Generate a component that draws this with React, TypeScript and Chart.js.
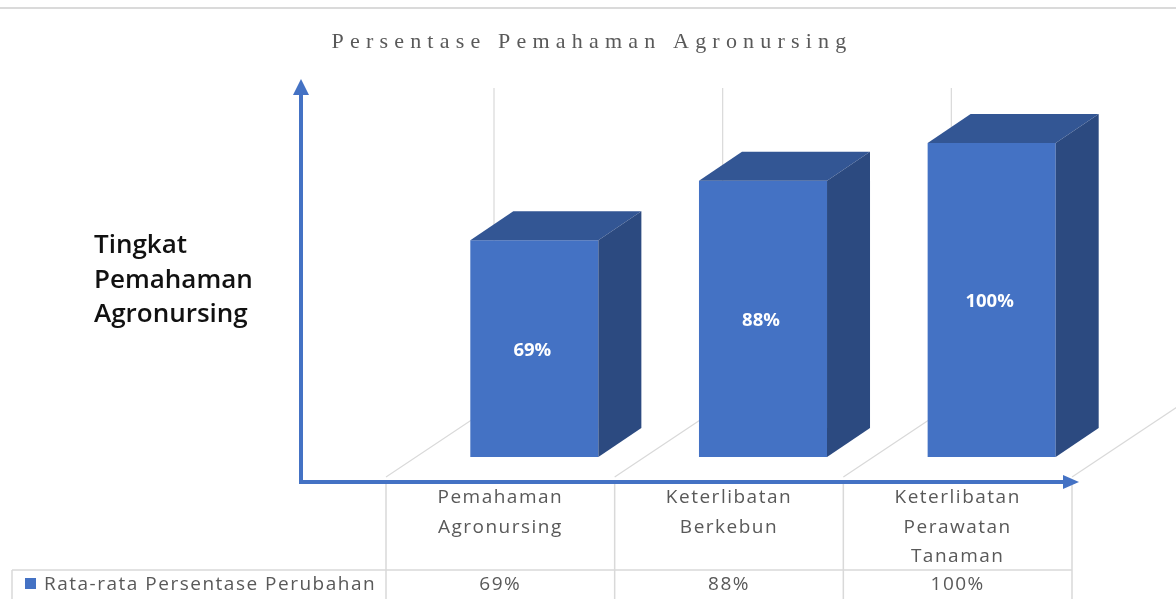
import React, { useEffect, useRef } from "react";
import { Chart, registerables } from "chart.js";

Chart.register(...registerables);

// ---- data ----
const categories: string[][] = [
  ["Pemahaman", "Agronursing"],
  ["Keterlibatan", "Berkebun"],
  ["Keterlibatan", "Perawatan", "Tanaman"],
];
const values: number[] = [69, 88, 100];
const valueLabels: string[] = ["69%", "88%", "100%"];
const seriesName = "Rata-rata Persentase Perubahan";
const chartTitle = "Persentase Pemahaman Agronursing";
const yAxisTitle: string[] = ["Tingkat", "Pemahaman", "Agronursing"];

// ---- styles ----
const FRONT = "#4472C4";
const TOP = "#335694";
const SIDE = "#2C4A80";
const GRID = "#D9D9D9";
const TEXT = "#595959";
const BAR_DEPTH = { dx: 43, dy: -29 };
const FLOOR_SHIFT = { dx: -34, dy: 20 };
const FULL_DEPTH = { dx: 108, dy: -72 };
const WALL_TOP = 88;
const SANS = "'Open Sans', Lato, sans-serif";

function line(ctx: CanvasRenderingContext2D, x1: number, y1: number, x2: number, y2: number) {
  ctx.beginPath();
  ctx.moveTo(x1, y1);
  ctx.lineTo(x2, y2);
  ctx.stroke();
}

const threeD = {
  id: "threeD",
  beforeDatasetsDraw(chart: any) {
    const { ctx, scales } = chart;
    const x = scales.x;
    const y = scales.y;
    const n = chart.data.labels.length;
    const w = x.getPixelForValue(1) - x.getPixelForValue(0);
    const floorY = y.getPixelForValue(0) + FLOOR_SHIFT.dy;
    ctx.save();
    // top border line
    ctx.strokeStyle = "#DADADA";
    ctx.lineWidth = 2;
    line(ctx, 0, 8, chart.width, 8);
    ctx.strokeStyle = GRID;
    ctx.lineWidth = 1.2;
    for (let k = 0; k <= n; k++) {
      const fx = x.getPixelForValue(k) - w / 2 + FLOOR_SHIFT.dx;
      line(ctx, fx, floorY, fx + FULL_DEPTH.dx, floorY + FULL_DEPTH.dy);
      line(ctx, fx + FULL_DEPTH.dx, floorY + FULL_DEPTH.dy, fx + FULL_DEPTH.dx, WALL_TOP);
    }
    ctx.restore();
  },
  afterDatasetsDraw(chart: any) {
    const { ctx } = chart;
    const meta = chart.getDatasetMeta(0);
    ctx.save();
    meta.data.forEach((el: any, i: number) => {
      const p = el.getProps(["x", "y", "base", "width"], true);
      const x0 = p.x - p.width / 2;
      const x1 = p.x + p.width / 2;
      const top = p.y;
      const base = p.base;
      // top face
      ctx.fillStyle = TOP;
      ctx.beginPath();
      ctx.moveTo(x0, top);
      ctx.lineTo(x1, top);
      ctx.lineTo(x1 + BAR_DEPTH.dx, top + BAR_DEPTH.dy);
      ctx.lineTo(x0 + BAR_DEPTH.dx, top + BAR_DEPTH.dy);
      ctx.closePath();
      ctx.fill();
      // side face
      ctx.fillStyle = SIDE;
      ctx.beginPath();
      ctx.moveTo(x1, top);
      ctx.lineTo(x1 + BAR_DEPTH.dx, top + BAR_DEPTH.dy);
      ctx.lineTo(x1 + BAR_DEPTH.dx, base + BAR_DEPTH.dy);
      ctx.lineTo(x1, base);
      ctx.closePath();
      ctx.fill();
      // label
      ctx.fillStyle = "#FFFFFF";
      ctx.font = `bold 18.5px ${SANS}`;
      ctx.textAlign = "center";
      ctx.textBaseline = "middle";
      ctx.fillText(valueLabels[i], p.x - 2, (top + base) / 2 + 2);
    });
    ctx.restore();
  },
  afterDraw(chart: any) {
    const { ctx, scales } = chart;
    const x = scales.x;
    const y = scales.y;
    const n = chart.data.labels.length;
    const w = x.getPixelForValue(1) - x.getPixelForValue(0);
    const floorY = y.getPixelForValue(0) + FLOOR_SHIFT.dy;
    const colLeft = (k: number) => x.getPixelForValue(k) - w / 2 + FLOOR_SHIFT.dx;
    ctx.save();

    // title
    ctx.fillStyle = TEXT;
    ctx.font = "22px 'Liberation Serif', serif";
    (ctx as any).letterSpacing = "6.2px";
    ctx.textAlign = "center";
    ctx.textBaseline = "middle";
    ctx.fillText(chartTitle, 592, 42);
    (ctx as any).letterSpacing = "0px";

    // y axis title
    ctx.fillStyle = "#111111";
    ctx.font = `600 26px ${SANS}`;
    ctx.textAlign = "left";
    yAxisTitle.forEach((t, i) => ctx.fillText(t, 94, 246 + i * 34.5));

    // table
    const tableTop = floorY + 7;
    const rowLine = 570;
    const tableBottom = chart.height;
    ctx.strokeStyle = GRID;
    ctx.lineWidth = 1.5;
    for (let k = 0; k <= n; k++) {
      line(ctx, colLeft(k), tableTop, colLeft(k), tableBottom);
    }
    line(ctx, 12, rowLine, colLeft(n), rowLine);
    line(ctx, 12, rowLine, 12, tableBottom);

    ctx.fillStyle = TEXT;
    ctx.font = `19px ${SANS}`;
    (ctx as any).letterSpacing = "1.5px";
    ctx.textAlign = "center";
    categories.forEach((lines, i) => {
      const cx = colLeft(i) + w / 2;
      lines.forEach((t, j) => ctx.fillText(t, cx, 498 + j * 29.5));
      ctx.fillText(valueLabels[i], cx, 585);
    });
    // legend key
    ctx.fillStyle = FRONT;
    ctx.fillRect(25, 578, 11, 11);
    ctx.fillStyle = TEXT;
    ctx.textAlign = "left";
    ctx.fillText(seriesName, 44, 585);
    (ctx as any).letterSpacing = "0px";

    // axis arrows
    const ax = 301;
    const ay = floorY + 5;
    ctx.strokeStyle = FRONT;
    ctx.fillStyle = FRONT;
    ctx.lineWidth = 4;
    ctx.lineCap = "butt";
    line(ctx, ax, ay + 2, ax, 92);
    ctx.beginPath();
    ctx.moveTo(ax, 79);
    ctx.lineTo(ax - 8, 95);
    ctx.lineTo(ax + 8, 95);
    ctx.closePath();
    ctx.fill();
    const xEnd = colLeft(n) + 7;
    line(ctx, ax - 2, ay, xEnd - 14, ay);
    ctx.beginPath();
    ctx.moveTo(xEnd, ay);
    ctx.lineTo(xEnd - 16, ay - 7);
    ctx.lineTo(xEnd - 16, ay + 7);
    ctx.closePath();
    ctx.fill();

    ctx.restore();
  },
};

export default function App() {
  const ref = useRef<HTMLCanvasElement | null>(null);
  useEffect(() => {
    if (!ref.current) return;
    const chart = new Chart(ref.current, {
      type: "bar",
      data: {
        labels: categories.map((c) => c.join(" ")),
        datasets: [
          {
            label: seriesName,
            data: values,
            backgroundColor: FRONT,
            borderWidth: 0,
            barPercentage: 0.56,
            categoryPercentage: 1,
          },
        ],
      },
      options: {
        responsive: false,
        animation: false,
        layout: { padding: { left: 420, right: 70, top: 143, bottom: 142 } },
        plugins: {
          legend: { display: false },
          title: { display: false },
          tooltip: { enabled: false },
        },
        scales: {
          x: { display: false },
          y: { display: false, min: 0, max: 100 },
        },
      },
      plugins: [threeD],
    });
    return () => chart.destroy();
  }, []);
  return (
    <div style={{ position: "fixed", left: 0, top: 0, width: 1176, height: 599, background: "#fff" }}>
      <canvas ref={ref} width={1176} height={599} style={{ display: "block" }} />
    </div>
  );
}
